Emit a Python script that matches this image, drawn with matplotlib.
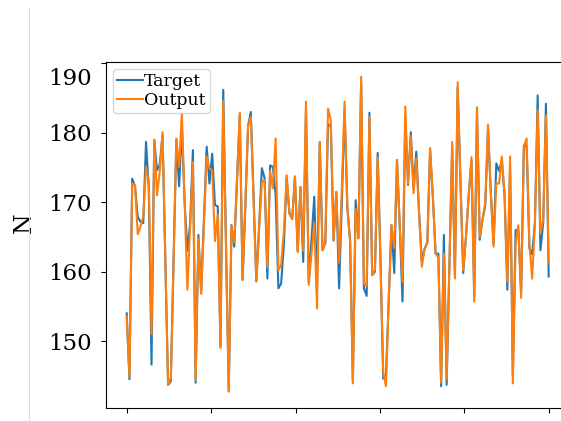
import numpy as np
import matplotlib
matplotlib.use("Agg")
import matplotlib.pyplot as plt
from matplotlib.lines import Line2D
from matplotlib.transforms import ScaledTranslation

plt.rcParams['font.family'] = ['DejaVu Serif']

# values
target = [154.0, 144.5, 173.4, 172.3, 167.9, 167.2, 167.0, 178.7, 172.0, 146.6,
          179.0, 174.6, 175.5, 179.7, 162.0, 143.7, 144.2, 162.0, 179.0, 172.3,
          180.9, 170.0, 163.0, 167.0, 177.5, 144.0, 165.3, 157.2, 167.5, 178.0,
          172.7, 177.0, 169.6, 169.4, 149.2, 186.2, 164.0, 142.8, 166.7, 163.6,
          173.0, 182.6, 158.8, 169.0, 181.0, 183.0, 171.0, 158.6, 166.5, 174.9,
          173.5, 159.0, 175.3, 175.1, 171.0, 157.6, 158.3, 164.0, 173.5, 168.4,
          167.6, 173.7, 163.0, 172.2, 161.4, 183.5, 158.5, 164.5, 170.8, 158.0,
          178.7, 163.1, 164.1, 181.2, 181.0, 164.5, 171.5, 157.6, 170.0, 183.3,
          169.2, 164.4, 144.2, 170.3, 164.8, 187.3, 157.6, 156.5, 182.9, 159.5,
          160.0, 177.1, 162.0, 144.6, 145.0, 156.0, 166.7, 159.8, 176.1, 166.5,
          155.7, 182.3, 172.5, 180.1, 172.0, 177.3, 168.5, 161.5, 163.3, 164.2,
          177.5, 170.8, 162.6, 162.6, 143.5, 165.3, 143.7, 161.0, 178.0, 159.5,
          186.5, 173.0, 159.8, 165.0, 171.0, 176.0, 156.5, 183.0, 164.6, 167.5,
          169.5, 180.5, 171.5, 164.0, 175.6, 174.5, 176.0, 171.0, 157.4, 175.0,
          145.0, 166.0, 166.0, 157.0, 178.2, 178.0, 163.4, 162.5, 167.0, 185.4,
          163.1, 167.0, 184.2, 159.3]

output = [153.5, 144.9, 172.7, 172.5, 165.4, 166.5, 167.9, 175.1, 173.0, 151.0,
          179.0, 171.0, 174.5, 180.1, 162.0, 143.7, 144.7, 161.0, 179.2, 175.1,
          182.8, 170.0, 157.4, 166.5, 175.8, 144.4, 164.8, 156.8, 166.7, 176.6,
          174.9, 174.6, 164.4, 168.2, 149.0, 184.6, 163.5, 142.7, 166.5, 164.2,
          173.5, 182.9, 158.8, 170.0, 181.0, 182.3, 170.5, 158.6, 166.0, 172.9,
          173.2, 160.7, 174.5, 172.0, 179.2, 160.2, 161.0, 166.0, 173.9, 168.4,
          167.6, 173.7, 162.8, 172.2, 163.0, 184.5, 158.1, 162.5, 167.0, 154.7,
          178.7, 163.1, 164.1, 183.5, 181.8, 164.5, 171.5, 161.3, 172.0, 184.5,
          169.2, 164.4, 143.9, 169.0, 164.8, 188.1, 158.3, 158.0, 182.3, 159.5,
          160.3, 176.4, 161.5, 145.5, 143.5, 156.0, 166.7, 163.4, 176.1, 166.5,
          158.5, 183.8, 172.7, 179.6, 171.3, 176.3, 168.5, 160.7, 163.3, 164.2,
          177.8, 170.8, 162.6, 162.0, 144.0, 162.6, 144.5, 161.0, 178.7, 159.0,
          187.3, 173.0, 160.2, 165.0, 171.0, 176.5, 155.7, 183.7, 165.0, 167.5,
          170.0, 181.2, 171.5, 163.6, 172.7, 172.7, 176.6, 171.0, 158.5, 176.6,
          143.9, 164.0, 166.7, 156.2, 178.0, 179.2, 164.0, 159.0, 167.0, 183.3,
          165.5, 167.5, 182.5, 161.4]

y_ticks = [150, 160, 170, 180, 190]

n = len(target)
x = np.arange(n)

fig = plt.figure(figsize=(5.61, 4.21), dpi=100)
# axes runs past the right edge, as in the cropped reference
ax = fig.add_axes([105.6 / 561, 13.3 / 421, 464.2 / 561, 346 / 421])

ax.plot(x, target, color='#1f77b4', lw=1.5, label='Target')
ax.plot(x, output, color='#ff7f0e', lw=1.5, label='Output')

ax.set_xlim(-0.05 * (n - 1), 1.05 * (n - 1))
ax.set_ylim(140.4, 190.25)
ax.set_xticks(np.linspace(0, n - 1, 6))
ax.set_yticks(y_ticks)
ax.tick_params(axis='x', labelbottom=False)
ax.tick_params(axis='y', labelsize=16.5, pad=6.5)

ax.set_ylabel('N', fontsize=17)
ax.yaxis.set_label_coords(-0.150, 0.535)

ax.legend(loc='upper left', fontsize=12.5, borderpad=0.25, labelspacing=0.1,
          handlelength=1.5, handletextpad=0.05, borderaxespad=0.4)

# thin grey rule on the far left
fig.add_artist(Line2D([28.5 / 561, 28.5 / 561], [0, 1 - 8 / 421],
                      color='#dddddd', lw=0.8))

fig.canvas.draw()
# the top label sits a bit lower in the reference
top = ax.yaxis.get_major_ticks()[-1].label1
top.set_transform(top.get_transform()
                  + ScaledTranslation(0, -0.13, fig.dpi_scale_trans))

fig.savefig('out.png', dpi=100)
